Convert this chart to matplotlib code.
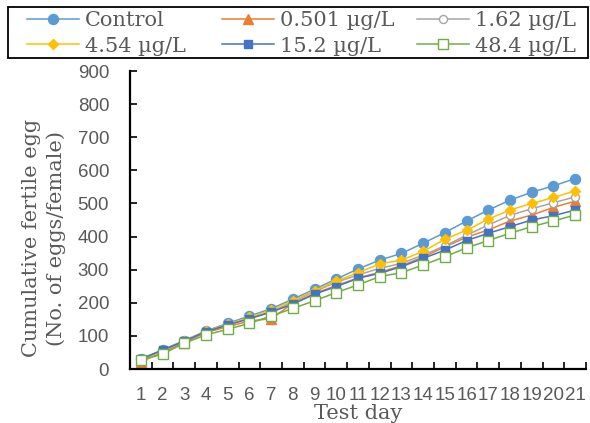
import matplotlib
matplotlib.use("Agg")
import matplotlib.pyplot as plt
from matplotlib.patches import Rectangle
from matplotlib.ticker import MultipleLocator, FixedLocator

plt.rcParams["font.family"] = ["Liberation Sans", "DejaVu Sans"]

days = list(range(1, 22))
series_names = ["Control", "0.501 µg/L", "1.62 µg/L", "4.54 µg/L", "15.2 µg/L", "48.4 µg/L"]

control = [30, 58, 86, 115, 138, 160, 182, 211, 241, 272, 302, 329, 349, 380, 412, 447, 480, 510, 534, 553, 575]
c0501 = [22, 50, 80, 110, 128, 145, 152, 198, 228, 252, 275, 292, 312, 338, 369, 398, 420, 447, 465, 488, 507]
c162 = [28, 55, 84, 113, 133, 153, 172, 203, 234, 262, 284, 304, 319, 344, 372, 404, 435, 464, 484, 502, 520]
c454 = [28, 55, 85, 114, 135, 156, 178, 206, 237, 266, 291, 317, 329, 355, 392, 419, 453, 480, 500, 518, 538]
c152 = [30, 57, 84, 113, 133, 152, 172, 196, 226, 249, 274, 289, 309, 334, 359, 388, 410, 430, 450, 463, 480]
c484 = [27, 45, 78, 103, 120, 138, 160, 183, 206, 231, 254, 279, 291, 314, 339, 366, 388, 410, 430, 447, 465]

values = [control, c0501, c162, c454, c152, c484]

styles = [
    dict(color="#5B9BD5", marker="o", markersize=7.2, markerfacecolor="#5B9BD5", markeredgecolor="#5B9BD5"),
    dict(color="#ED7D31", marker="^", markersize=6.5, markerfacecolor="#ED7D31", markeredgecolor="#ED7D31"),
    dict(color="#A5A5A5", marker="o", markersize=5.8, markerfacecolor="white", markeredgecolor="#A5A5A5", markeredgewidth=1.0),
    dict(color="#FFC000", marker="D", markersize=5.0, markerfacecolor="#FFC000", markeredgecolor="#FFC000"),
    dict(color="#4472C4", marker="s", markersize=5.8, markerfacecolor="#4472C4", markeredgecolor="#4472C4"),
    dict(color="#70AD47", marker="s", markersize=7.0, markerfacecolor="white", markeredgecolor="#70AD47", markeredgewidth=1.0),
]

serif = ["DejaVu Serif"]
text_gray = "#595959"

fig = plt.figure(figsize=(5.90, 4.23), dpi=100)
ax = fig.add_axes([130 / 590, 1 - 369 / 423, 456 / 590, 298 / 423])

lines = []
for name, vals, st in zip(series_names, values, styles):
    ln, = ax.plot(days, vals, linewidth=1.1, label=name, **st)
    lines.append(ln)

ax.set_xlim(0.5, 21.5)
ax.set_ylim(0, 900)
ax.yaxis.set_major_locator(MultipleLocator(100))
ax.xaxis.set_major_locator(FixedLocator(days))
ax.set_xticklabels([str(d) for d in days])
ax.xaxis.set_minor_locator(FixedLocator([d + 0.5 for d in range(0, 22)]))

for side in ("top", "right"):
    ax.spines[side].set_visible(False)
for side in ("left", "bottom"):
    ax.spines[side].set_linewidth(1.6)
    ax.spines[side].set_color("black")

ax.tick_params(axis="y", direction="in", length=5, width=1.2, colors="black",
               labelcolor=text_gray, labelsize=13.5, pad=15)
ax.tick_params(axis="x", which="major", length=0, labelcolor=text_gray, labelsize=13.5, pad=13)
ax.tick_params(axis="x", which="minor", direction="in", length=5, width=1.2, colors="black")

ax.set_xlabel("Test day", fontsize=15, color=text_gray, family=serif, labelpad=0)
fig.text(44 / 590, 1 - 238 / 423, "Cumulative fertile egg\n(No. of eggs/female)",
         rotation=90, ha="center", va="center", multialignment="center",
         fontsize=15, color=text_gray, family=serif, linespacing=1.4)

# Legend: three columns of two rows, laid out at fixed column positions inside one frame
col_x = [27, 222, 417]
for c in range(3):
    hs = [lines[c], lines[c + 3]]
    lg = fig.legend(handles=hs, labels=[h.get_label() for h in hs],
                    loc="center left", bbox_to_anchor=(col_x[c] / 590, 1 - 33.5 / 423),
                    frameon=False, prop={"family": serif, "size": 15},
                    handlelength=2.5, handletextpad=0.3, borderpad=0, borderaxespad=0,
                    labelspacing=0.3)
    for t in lg.get_texts():
        t.set_color(text_gray)

fig.patches.append(Rectangle((8 / 590, 1 - 58 / 423), 580 / 590, 51 / 423,
                             transform=fig.transFigure, fill=False,
                             edgecolor="black", linewidth=1.3))

fig.savefig("out.png", dpi=100)
